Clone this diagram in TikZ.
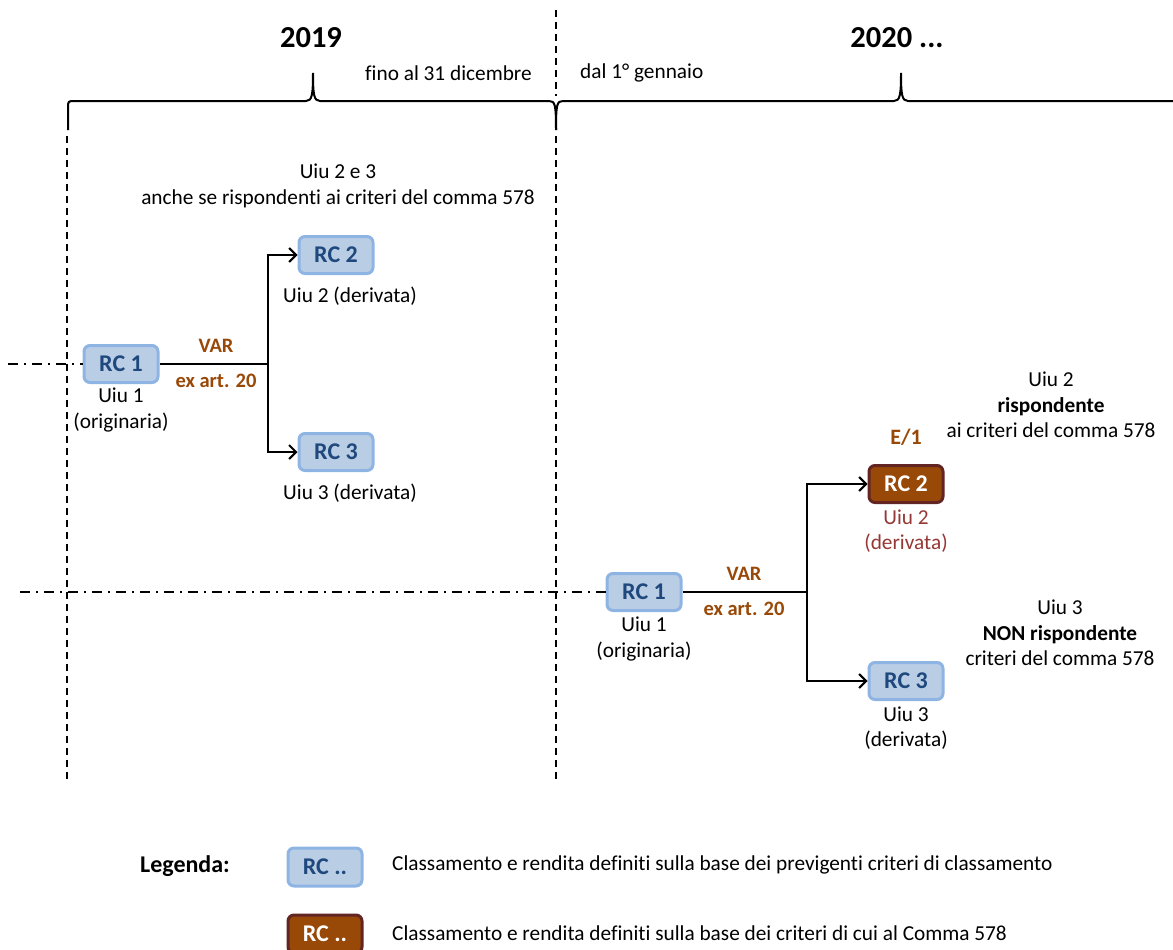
\documentclass[tikz,border=0pt]{standalone}
\usepackage{fontspec}
\setmainfont{Carlito}[Ligatures=NoCommon]
\usetikzlibrary{arrows.meta}
\definecolor{boxblue}{HTML}{B9CDE5}
\definecolor{boxblueline}{HTML}{8EB4E3}
\definecolor{textblue}{HTML}{1F497D}
\definecolor{boxbrown}{HTML}{984807}
\definecolor{boxbrownline}{HTML}{632523}
\definecolor{labelbrown}{HTML}{984807}
\definecolor{textred}{HTML}{953735}
\begin{document}
\begin{tikzpicture}[x=1pt,y=-1pt,
  rcblue/.style={draw=boxblueline, fill=boxblue, line width=3pt, rounded corners=6pt, minimum width=74pt, minimum height=37pt, inner sep=0pt, text=textblue, font=\fontsize{24}{28}\selectfont\bfseries},
  rcbrown/.style={rcblue, draw=boxbrownline, fill=boxbrown, text=white},
  txt/.style={font=\fontsize{21.3}{25.5}\selectfont, inner sep=0pt, align=center},
  lbl/.style={font=\fontsize{20.5}{25}\selectfont\bfseries, text=labelbrown, inner sep=0pt},
  yeartxt/.style={font=\fontsize{30.5}{36}\selectfont\bfseries, inner sep=0pt},
  conn/.style={line width=2pt},
  arr/.style={conn, -{Straight Barb[length=7pt,width=14pt,line width=2pt]}},
  vdash/.style={line width=1.5pt, dash pattern=on 7pt off 5pt},
  dashdot/.style={line width=1.5pt, dash pattern=on 10pt off 6pt on 2pt off 6pt},
  bracestyle/.style={line width=2pt}
]
\useasboundingbox (0,0) rectangle (1173,950);

% years and period labels
\node[yeartxt] (y19) at (311,38) {2019};
\node[yeartxt] (y20) at (897,38) {2020 ...};
\node[txt, anchor=west] (fino) at (365,73) {fino al 31 dicembre};
\node[txt, anchor=west] (dal) at (580,73) {dal 1° gennaio};

% braces
\draw[bracestyle] (68,130) -- (68,108) .. controls (68,101) .. (75,101) -- (306,101)
  .. controls (312,101) and (313,95) .. (313,73)
  .. controls (313,95) and (314,101) .. (320,101) -- (549,101)
  .. controls (555,101) and (556,104) .. (556,130);
\draw[bracestyle] (556,130) .. controls (556,104) and (557,101) .. (563,101) -- (894,101)
  .. controls (900,101) and (901,95) .. (901,73)
  .. controls (901,95) and (902,101) .. (908,101) -- (1175,101);

% vertical dashed separators
\coordinate (l1t) at (67,136);
\coordinate (l1b) at (67,782);
\coordinate (l2a) at (556,10);
\coordinate (l2b) at (556,96);
\coordinate (l2c) at (556,136);
\coordinate (l2d) at (556,782);
\draw[vdash] (l1t) -- (l1b);
\draw[vdash] (l2a) -- (l2b);
\draw[vdash] (l2c) -- (l2d);

% group 2019
\node[txt] (anote) at (338,186) {Uiu 2 e 3\\anche se rispondenti ai criteri del comma 578};
\node[rcblue] (a1) at (121,364) {RC 1};
\node[rcblue] (a2) at (336,255) {RC 2};
\node[rcblue] (a3) at (336,452) {RC 3};
\node[txt] (a1t) at (121,410) {Uiu 1\\(originaria)};
\node[txt] (a2t) at (350,296) {Uiu 2 (derivata)};
\node[txt] (a3t) at (350,493) {Uiu 3 (derivata)};
\node[lbl] (av) at (216,346) {VAR};
\node[lbl] (ae) at (216,381) {ex art. 20};
\coordinate (aj) at (268,364);
\coordinate (as) at (8,364);
\draw[dashdot] (as) -- (a1);
\draw[conn] (a1) -- (aj);
\draw[arr] (aj) |- (a2);
\draw[arr] (aj) |- (a3);

% group 2020
\node[txt] (bn2) at (1051,405) {Uiu 2\\\textbf{rispondente}\\ai criteri del comma 578};
\node[lbl, font=\fontsize{22}{26}\selectfont\bfseries] (be1) at (906,437) {E/1};
\node[rcblue] (b1) at (644,592) {RC 1};
\node[rcbrown] (b2) at (906,484) {RC 2};
\node[rcblue] (b3) at (906,681) {RC 3};
\node[txt] (b1t) at (644,639) {Uiu 1\\(originaria)};
\node[txt, text=textred] (b2t) at (906,531) {Uiu 2\\(derivata)};
\node[txt] (b3t) at (906,728) {Uiu 3\\(derivata)};
\node[lbl] (bv) at (744,574) {VAR};
\node[lbl] (be) at (744,609) {ex art. 20};
\node[txt] (bn3) at (1060,633) {Uiu 3\\\textbf{NON rispondente}\\criteri del comma 578};
\coordinate (bj) at (807,592);
\coordinate (bs) at (20,592);
\draw[dashdot] (bs) -- (b1);
\draw[conn] (b1) -- (bj);
\draw[arr] (bj) |- (b2);
\draw[arr] (bj) |- (b3);

% legend
\node[font=\fontsize{24}{28}\selectfont\bfseries, inner sep=0pt] (leg) at (185,866) {Legenda:};
\node[rcblue, minimum height=38pt] (lb) at (325,867) {RC ..};
\node[rcbrown, minimum height=38pt] (lr) at (325,934) {RC ..};
\node[txt, anchor=west] (lbt) at (392,865) {Classamento e rendita definiti sulla base dei previgenti criteri di classamento};
\node[txt, anchor=west] (lrt) at (392,933) {Classamento e rendita definiti sulla base dei criteri di cui al Comma 578};
\end{tikzpicture}
\end{document}
